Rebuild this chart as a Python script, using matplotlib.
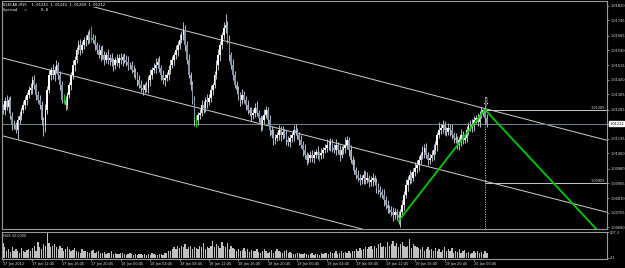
import matplotlib
matplotlib.use('Agg')
import matplotlib.pyplot as plt
import numpy as np

# ---------------- data (prices in points above 1.00000, 1 point = 0.00001) -------------
first_open_pts = 1290
close_pts = [
    1283,1330,1300, 1335,1255,1205, 1205,1180,1230, 1255,1283,1310,
    1335,1360,1386, 1395,1438,1410, 1360,1335,1310, 1232,1205,1283,
    1386,1463,1489, 1463,1489,1515, 1463,1410,1335, 1335,1310,1360,
    1410,1463,1515, 1541,1592,1618, 1592,1618,1644, 1644,1670,1655,
    1655,1644,1618, 1592,1567,1592, 1567,1541,1567, 1541,1551,1530,
    1515,1541,1525, 1551,1541,1556, 1541,1530,1515, 1515,1489,1478,
    1463,1438,1410, 1395,1386,1410, 1395,1438,1463, 1489,1499,1515,
    1530,1499,1463, 1438,1448,1463, 1489,1515,1541, 1567,1592,1618,
    1644,1670,1695, 1618,1541,1463, 1410,1335,1230, 1230,1257,1270,
    1310,1295,1335, 1325,1345,1386, 1410,1463,1515, 1567,1618,1670,
    1705,1720,1644, 1567,1515,1463, 1410,1386,1360, 1335,1360,1335,
    1310,1283,1270, 1257,1270,1295, 1270,1240,1205, 1230,1257,1283,
    1232,1180,1155, 1129,1140,1155, 1180,1155,1170, 1155,1129,1118,
    1140,1155,1180, 1170,1155,1129, 1103,1077,1051, 1026,1036,1051,
    1036,1051,1067, 1051,1051,1062, 1077,1087,1103, 1103,1118,1087,
    1077,1103,1077, 1051,1077,1087, 1103,1129,1077, 1026,1000,974,
    948,933,923, 933,948,923, 933,912,923, 933,912,881,
    871,860,845, 820,794,778, 768,758,742, 758,742,727,
    758,794,845, 897,923,948, 933,964,984, 1000,1026,1051,
    1067,1087,1051, 1026,1036,1051, 1077,1103,1155, 1180,1190,1205,
    1180,1170,1190, 1180,1155,1140, 1129,1103,1129, 1155,1129,1140,
    1180,1205,1190, 1205,1232,1242, 1222,1257,1270, 1283,1242,1212,
]
upper_wick_pts = [
    25,18,30,15,22,20,28,15,20,25,15,20,
    22,15,20,30,18,25,15,20,25,18,15,30,
    20,25,15,30,20,25,15,20,25,30,18,15,
    20,15,25,20,15,25,30,20,15,25,20,30,
    60,20,25,15,30,20,25,20,15,30,20,25,
    20,15,30,20,25,15,20,25,30,15,20,25,
    20,15,25,30,20,15,25,20,30,15,25,35,
    20,30,15,25,20,15,25,30,20,15,25,20,
    30,20,40,25,20,30,15,25,20,30,15,20,
    25,20,15,30,20,25,15,20,25,30,20,15,
    30,60,20,25,15,30,20,25,20,15,30,20,
    20,25,15,30,20,25,35,15,20,25,30,20,
    15,25,20,30,20,15,25,20,30,15,25,20,
    20,15,25,30,20,15,25,20,30,15,25,20,
    25,20,15,30,20,25,15,20,30,25,20,15,
    20,30,15,25,20,15,40,20,15,25,20,30,
    15,25,20,15,25,20,30,15,20,25,15,20,
    25,20,15,30,20,25,15,20,25,20,15,20,
    15,25,20,30,20,25,15,20,30,25,20,15,
    30,20,25,15,20,25,30,20,15,40,20,25,
    20,15,25,20,30,15,25,20,15,30,20,25,
    20,15,25,30,20,15,25,20,30,8,25,20,
]
lower_wick_pts = [
    20,25,15,30,20,25,20,15,45,20,25,15,
    20,25,15,20,30,20,25,15,20,25,55,35,
    20,15,25,20,30,15,20,25,15,20,25,20,
    15,25,20,30,15,20,25,15,20,30,20,25,
    20,15,25,20,15,30,20,25,15,20,25,20,
    30,20,15,25,20,30,15,20,25,20,15,25,
    20,30,15,20,25,15,20,25,30,20,15,25,
    15,20,25,20,30,15,25,20,15,25,20,30,
    20,15,25,30,20,15,25,20,30,35,25,20,
    15,25,20,30,15,20,25,15,20,25,30,20,
    20,25,15,30,20,25,15,20,25,30,20,15,
    25,20,15,30,20,25,15,20,30,25,20,15,
    20,30,15,25,20,15,25,30,20,15,25,20,
    25,20,30,15,20,25,15,30,20,25,15,20,
    20,25,15,20,30,20,25,15,20,25,30,20,
    15,25,20,30,15,20,25,20,30,15,25,20,
    20,15,25,20,30,20,15,25,20,30,15,25,
    20,25,15,30,20,25,15,20,30,20,25,30,
    45,20,25,15,30,20,25,15,20,25,30,20,
    20,30,15,25,20,15,25,20,30,15,20,25,
    25,20,15,30,20,25,15,20,25,30,20,15,
    20,25,15,20,30,15,20,25,15,20,25,15,
]
doji_bars = [33, 48, 105, 172]
volume = [
    120,90,60,75,50,85,60,70,55,45,80,60,50,65,75,55,
    80,100,60,130,90,70,110,95,200,120,85,100,110,90,70,95,80,
    60,75,90,70,55,65,80,60,50,45,70,55,60,50,45,55,65,40,50,60,45,40,50,35,45,40,55,35,
    40,35,30,45,38,30,28,35,40,30,25,30,28,35,30,25,32,28,30,25,38,30,28,25,30,35,28,45,40,55,
    60,75,85,70,95,80,100,90,110,70,85,100,75,90,80,70,95,85,120,75,90,80,100,135,90,110,95,80,130,100,85,120,70,95,80,
    70,60,75,55,65,80,60,70,50,65,55,60,75,50,45,60,70,55,40,50,65,45,55,70,60,50,40,55,65,45,50,40,35,30,40,
    45,35,30,40,35,25,30,40,28,35,30,25,38,30,45,40,35,50,45,40,55,35,45,60,40,50,45,55,40,60,
    55,70,60,80,65,75,90,70,85,100,75,95,80,110,120,90,100,85,130,95,110,140,100,120,90,110,130,100,85,95,150,80,110,100,90,
    80,70,90,60,75,85,65,70,55,80,60,75,50,65,85,60,70,55,80,45,60,50,70,40,55,65,45,50,35,40,55,45,60,40,50,35,55,40,
]
time_labels = ["17 Jan 2012", "17 Jan 12:45", "17 Jan 16:45", "17 Jan 20:45",
               "18 Jan 00:45", "18 Jan 04:45", "18 Jan 08:45", "18 Jan 12:45",
               "18 Jan 16:45", "18 Jan 20:45", "19 Jan 00:45", "19 Jan 04:45",
               "19 Jan 08:45", "19 Jan 12:45", "19 Jan 16:45", "19 Jan 20:45",
               "20 Jan 00:45"]
price_ticks = [1.01820, 1.01745, 1.01665, 1.01590, 1.01515, 1.01440, 1.01365, 1.01285,
               1.01210, 1.01135, 1.01060, 1.00980, 1.00905, 1.00830, 1.00755, 1.00680]
# channel anchors (bar index, price)
chan_top = [(50, 1.01813), (300, 1.01197)]
chan_mid = [(50, 1.01430), (300, 1.00825)]
chan_bot = [(50, 1.01027), (300, 1.00413)]
bid_price = 1.01212
level_hi = 1.01285
level_lo = 1.00905
level_bar = 262
zz_bars = [215, 262, 324]
zz_prices = [1.00712, 1.01285, 1.00655]
header1 = "USDCAD,M15  1.01241 1.01241 1.01209 1.01212"
header2 = "Spread   =      0.8"
vol_label = "HUX 32.0000"
vol_ticks = [207.3, 2.1]

# ---------------- figure ----------------
W, H = 625, 268
fig = plt.figure(figsize=(W/100, H/100), dpi=100, facecolor='black')
FS = 2.5

def px_axes(x0, y0, x1, y1):
    a = fig.add_axes([x0/W, 1-y1/H, (x1-x0)/W, (y1-y0)/H])
    a.set_facecolor('black')
    for s in a.spines.values():
        s.set_color('#9a9a9a'); s.set_linewidth(0.8)
    return a

ax = px_axes(2, 1, 607, 229)
axv = px_axes(2, 232, 607, 259)

xl = (-0.54, 328.3)
ax.set_xlim(*xl); axv.set_xlim(*xl)
ax.set_ylim(1.006706, 1.018448)

c = 1 + np.array(close_pts)/1e5
o = np.r_[1 + first_open_pts/1e5, c[:-1]]
hi = np.maximum(o, c) + np.array(upper_wick_pts)/1e5
lo = np.minimum(o, c) - np.array(lower_wick_pts)/1e5
idx = np.arange(len(c))
is_doji = np.isin(idx, doji_bars)
bull = (c >= o) & ~is_doji
bear = (c < o) & ~is_doji

wick_col = np.where(is_doji, '#00d000', '#b4bccb')
ax.vlines(idx, lo, hi, colors=wick_col, lw=0.7, zorder=3)
bh = np.maximum(np.abs(c - o), 0.000025)
bb = np.minimum(o, c)
ax.bar(idx[bull], bh[bull], bottom=bb[bull], width=0.85, color='#ffffff', lw=0, zorder=4)
ax.bar(idx[bear], bh[bear], bottom=bb[bear], width=0.85, color='#8393aa', lw=0, zorder=4)
ax.hlines(c[is_doji], idx[is_doji]-0.5, idx[is_doji]+0.5, colors='#00d000', lw=0.8, zorder=4)

# channel lines
for ch in (chan_top, chan_mid, chan_bot):
    ax.axline(ch[0], ch[1], color='#cfcfcf', lw=0.7, zorder=2)

ax.axhline(bid_price, color='#6f7f90', lw=0.7, zorder=2)
ax.hlines([level_hi, level_lo], level_bar, xl[1], colors='#c8c8c8', lw=0.7, zorder=2)
for lv in (level_hi, level_lo):
    ax.text(xl[1]-1, lv, f"{lv:.5f}", ha='right', va='bottom', fontsize=FS,
            color='#e0e0e0', zorder=6)
ax.vlines(level_bar, ax.get_ylim()[0], level_hi, colors='#dddddd', lw=0.7,
          linestyles=(0, (1, 1.5)), zorder=2)
ax.plot(zz_bars, zz_prices, color='#00cc00', lw=1.3, zorder=5)
ax.annotate('⇩', (level_bar, level_hi), xytext=(0, 2), textcoords='offset points',
            ha='center', va='bottom', fontsize=7, color='white', zorder=6)

# right axis
ax.yaxis.tick_right()
ax.set_yticks(price_ticks)
ax.set_yticklabels([f"{t:.5f}" for t in price_ticks])
ax.tick_params(axis='y', colors='#9a9a9a', labelcolor='#e0e0e0', labelsize=FS,
               length=1.5, width=0.6, pad=0.8)
ax.set_xticks([])
ax.annotate(f"{bid_price:.5f}", (1.0, bid_price), xycoords=('axes fraction', 'data'),
            xytext=(1.6, 0), textcoords='offset points', va='center', ha='left',
            fontsize=FS, color='black', zorder=7, annotation_clip=False,
            bbox=dict(boxstyle='square,pad=0.15', fc='white', ec='white'))

# header
fig.text(3/W, 1-4.5/H, header1, fontsize=2.8, color='white', va='center', ha='left',
         family='DejaVu Sans Mono',
         bbox=dict(boxstyle='square,pad=0.1', fc='black', ec='none'), zorder=10)
fig.text(3/W, 1-10/H, header2, fontsize=2.8, color='white', va='center', ha='left',
         family='DejaVu Sans Mono')

# volume panel
axv.set_ylim(-5.8, 207.3)
axv.bar(idx, volume, width=0.7, color='#c0c0c0', lw=0)
axv.yaxis.tick_right()
axv.set_yticks(vol_ticks)
axv.set_yticklabels([f"{v:.1f}" for v in vol_ticks])
axv.tick_params(axis='y', colors='#9a9a9a', labelcolor='#e0e0e0', labelsize=FS,
                length=1.5, width=0.6, pad=0.8)
axv.text(0.002, 0.86, vol_label, transform=axv.transAxes, fontsize=FS,
         color='#e0e0e0', va='center', ha='left')
tick_bars = np.arange(len(time_labels)) * 16
axv.set_xticks(tick_bars)
axv.set_xticklabels(time_labels, ha='left')
axv.tick_params(axis='x', colors='#9a9a9a', labelcolor='#e0e0e0', labelsize=FS,
                length=1.5, width=0.6, pad=0.5)

fig.savefig('out.png', dpi=100, facecolor='black')
